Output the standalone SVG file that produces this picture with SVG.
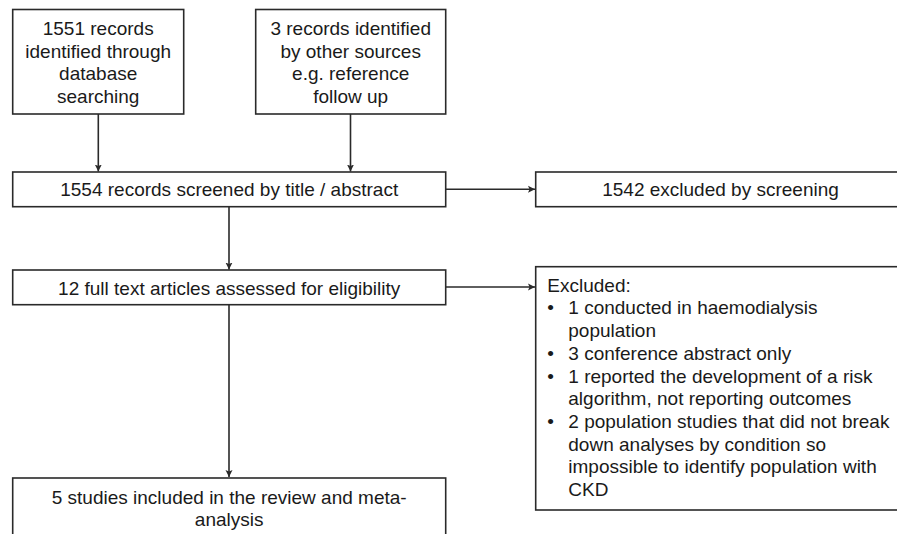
<svg xmlns="http://www.w3.org/2000/svg" width="897" height="534" viewBox="0 0 897 534">
<style>
.box{fill:#fff;stroke:#2a2a2a;stroke-width:1.6}
.t{font-family:"Liberation Sans",Arial,sans-serif;font-size:19px;fill:#1a1a1a}
.c{text-anchor:middle}
.ln{stroke:#2a2a2a;stroke-width:1.6;fill:none;marker-end:url(#ah)}
</style>
<defs>
<marker id="ah" markerWidth="8" markerHeight="8" refX="7" refY="4" orient="auto" markerUnits="userSpaceOnUse">
<path d="M0,0.5 L7,4 L0,7.5 L1.5,4 Z" fill="#2a2a2a"/>
</marker>
</defs>
<rect width="897" height="534" fill="#fff"/>
<g id="connectors">
<line class="ln" x1="98.3" y1="114" x2="98.3" y2="171.5"/>
<line class="ln" x1="350.5" y1="114" x2="350.5" y2="171.5"/>
<line class="ln" x1="445.7" y1="189.3" x2="535" y2="189.3"/>
<line class="ln" x1="229" y1="206.7" x2="229" y2="269.5"/>
<line class="ln" x1="445.7" y1="287" x2="535" y2="287"/>
<line class="ln" x1="229" y1="304.7" x2="229" y2="477"/>
</g>
<g id="n1">
<rect class="box" x="12.7" y="9.5" width="171" height="104.5"/>
<text class="t c" x="98.2"><tspan x="98.2" y="35">1551 records</tspan><tspan x="98.2" y="57.7">identified through</tspan><tspan x="98.2" y="80.4">database</tspan><tspan x="98.2" y="103.1">searching</tspan></text>
</g>
<g id="n2">
<rect class="box" x="255.7" y="9.5" width="190" height="104.5"/>
<text class="t c" x="350.7"><tspan x="350.7" y="35">3 records identified</tspan><tspan x="350.7" y="57.7">by other sources</tspan><tspan x="350.7" y="80.4">e.g. reference</tspan><tspan x="350.7" y="103.1">follow up</tspan></text>
</g>
<g id="n3">
<rect class="box" x="12.7" y="172" width="433" height="34.7"/>
<text class="t c" x="229.2" y="196">1554 records screened by title / abstract</text>
</g>
<g id="n4">
<rect class="box" x="535.7" y="172" width="370" height="34.7"/>
<text class="t c" x="720.5" y="196">1542 excluded by screening</text>
</g>
<g id="n5">
<rect class="box" x="12.7" y="270" width="433" height="34.7"/>
<text class="t c" x="229.2" y="295">12 full text articles assessed for eligibility</text>
</g>
<g id="n6">
<rect class="box" x="535.7" y="266.7" width="370" height="243.3"/>
<text class="t" x="547.3" y="291.7">Excluded:</text>
<text class="t" x="547.3" y="314.4">•</text><text class="t" x="568.3" y="314.4">1 conducted in haemodialysis</text>
<text class="t" x="568.3" y="337.1">population</text>
<text class="t" x="547.3" y="359.8">•</text><text class="t" x="568.3" y="359.8">3 conference abstract only</text>
<text class="t" x="547.3" y="382.5">•</text><text class="t" x="568.3" y="382.5">1 reported the development of a risk</text>
<text class="t" x="568.3" y="405.2">algorithm, not reporting outcomes</text>
<text class="t" x="547.3" y="427.9">•</text><text class="t" x="568.3" y="427.9">2 population studies that did not break</text>
<text class="t" x="568.3" y="450.6">down analyses by condition so</text>
<text class="t" x="568.3" y="473.3">impossible to identify population with</text>
<text class="t" x="568.3" y="496">CKD</text>
</g>
<g id="n7">
<rect class="box" x="12.7" y="478" width="433" height="80"/>
<text class="t c" x="229.2"><tspan x="229.2" y="503.5">5 studies included in the review and meta-</tspan><tspan x="229.2" y="526.2">analysis</tspan></text>
</g>
</svg>
